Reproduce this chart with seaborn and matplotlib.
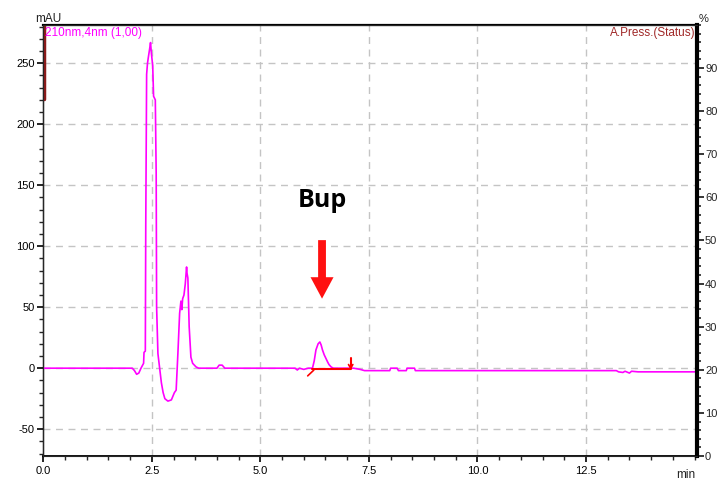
import numpy as np
import pandas as pd
import matplotlib
matplotlib.use("Agg")
import matplotlib.pyplot as plt
import seaborn as sns
from matplotlib.ticker import MultipleLocator
from matplotlib.patches import FancyArrow

# ---------------- data ----------------
time_min = [0.0, 2.05, 2.10, 2.15, 2.20, 2.25, 2.28, 2.31, 2.32, 2.35, 2.36, 2.38, 2.40,
            2.42, 2.45, 2.47, 2.49, 2.52, 2.54, 2.58, 2.60, 2.61, 2.64, 2.68, 2.72, 2.76,
            2.80, 2.87, 2.95, 3.02, 3.06, 3.10, 3.14, 3.17, 3.19, 3.21, 3.24, 3.27, 3.30,
            3.31, 3.33, 3.36, 3.40, 3.44, 3.52, 3.58, 4.00, 4.05, 4.12, 4.18, 5.80, 5.85,
            5.90, 6.00, 6.10, 6.20, 6.24, 6.28, 6.33, 6.37, 6.40, 6.43, 6.47, 6.51, 6.55,
            6.58, 6.63, 6.68, 7.15, 7.30, 7.40, 7.98, 8.00, 8.15, 8.18, 8.36, 8.38, 8.55,
            8.57, 13.20, 13.25, 13.35, 13.40, 13.50, 13.55, 13.70, 15.05]
signal_mau = [0, 0, -2, -5, -4, 0, 2, 4, 13, 14, 117, 241, 250,
              255, 262, 267, 258, 248, 223, 220, 160, 50, 12, 0, -12, -20,
              -25, -27, -26, -20, -18, 12, 45, 55, 48, 57, 60, 69, 83,
              78, 74, 34, 9, 4, 1, 0, 0, 2.5, 2.5, 0, 0, -1.5,
              0, -1, 0, 0, 6, 15, 20, 21.5, 19, 15, 11, 8, 5,
              3, 1, 0, 0, -1, -2, -2, 0, 0, -2, -2, 0, 0,
              -2, -2, -3, -3.5, -2.5, -4, -2.5, -3, -3]

# integration baseline of the Bup peak
base_time = [6.20, 7.08]
base_mau = [-0.5, -0.5]

# pressure trace fragment at start (dark red)
press_time = [0.02, 0.02]
press_mau = [285, 221]

left_ticks = [-50, 0, 50, 100, 150, 200, 250]
right_ticks = [0, 10, 20, 30, 40, 50, 60, 70, 80, 90]
x_ticks = [0.0, 2.5, 5.0, 7.5, 10.0, 12.5]

peak_label = "Bup"
peak_time = 6.42
trace_label = "210nm,4nm (1,00)"
press_label = "A.Press.(Status)"

# ---------------- style ----------------
sns.set_style("white")
plt.rcParams["font.family"] = ["Liberation Sans", "DejaVu Sans"]

fig = plt.figure(figsize=(7.17, 4.82), dpi=100)
ax = fig.add_axes([43.3 / 717, 1 - 456 / 482, (696.7 - 43.3) / 717, (456 - 25) / 482])
ax.set_facecolor("white")

ax.set_xlim(0, 15.05)
ax.set_ylim(-72, 281.4)

grid_kw = dict(color="#c4c4c4", lw=1.0, dashes=(5, 4), zorder=0)
for yv in left_ticks:
    ax.axhline(yv, **grid_kw)
for xv in x_ticks[1:]:
    ax.axvline(xv, **grid_kw)

df = pd.DataFrame({"t": time_min, "mAU": signal_mau})
sns.lineplot(data=df, x="t", y="mAU", ax=ax, color="#ff00ff", lw=1.2,
             sort=False, estimator=None, zorder=3)
sns.lineplot(x=base_time, y=base_mau, ax=ax, color="#ff0000", lw=1.5,
             sort=False, estimator=None, zorder=4)
# integration markers
ax.plot([6.09, 6.23], [-6.3, -1.6], color="#ff0000", lw=1.2, zorder=4)
ax.plot([7.08, 7.08], [8, 0], color="#ff0000", lw=1.5, zorder=4)
ax.plot([7.03, 7.08, 7.13], [3, 0, 3], color="#ff0000", lw=1.2, zorder=4)
sns.lineplot(x=press_time, y=press_mau, ax=ax, color="#8b1a1a", lw=2.5,
             sort=False, estimator=None, zorder=4)

# arrow and label
ax.add_patch(FancyArrow(peak_time, 105, 0, -48, width=0.18, head_width=0.53,
                        head_length=17.6, length_includes_head=True,
                        color="#ff1010", lw=0, zorder=5))
ax.text(peak_time, 132, peak_label, ha="center", va="baseline", fontsize=18,
        fontweight="bold", family=["Open Sans", "DejaVu Sans"], color="black")

ax.set_xlabel("")
ax.set_ylabel("")
ax.set_xticks(x_ticks)
ax.set_xticklabels([f"{v:.1f}" for v in x_ticks])
ax.set_yticks(left_ticks)
ax.set_yticklabels([str(v) for v in left_ticks])
ax.xaxis.set_minor_locator(MultipleLocator(0.5))
ax.yaxis.set_minor_locator(MultipleLocator(10))
ax.tick_params(axis="both", which="major", direction="out", length=4, width=1.2,
               labelsize=8, colors="black", pad=2, left=True, bottom=True)
ax.tick_params(axis="both", which="minor", direction="out", length=3, width=1.0,
               left=True, bottom=True)
ax.tick_params(axis="x", pad=3)

for s in ["left", "bottom", "top"]:
    ax.spines[s].set_color("black")
    ax.spines[s].set_visible(True)
ax.spines["left"].set_linewidth(1.0)
ax.spines["bottom"].set_linewidth(1.3)
ax.spines["top"].set_linewidth(1.6)

ax.text(0.003, 0.995, trace_label, transform=ax.transAxes, ha="left", va="top",
        color="#ff00ff", fontsize=8.5, zorder=6)
ax.text(0.999, 0.995, press_label, transform=ax.transAxes, ha="right", va="top",
        color="#a02828", fontsize=8.5, zorder=6)

# right axis
ax2 = ax.twinx()
ax2.set_ylim(0, 100)
ax2.set_yticks(right_ticks)
ax2.set_yticklabels([str(v) for v in right_ticks])
ax2.yaxis.set_minor_locator(MultipleLocator(2))
ax2.tick_params(axis="y", which="major", direction="out", length=5, width=1.3,
                labelsize=8, pad=1, right=True)
ax2.tick_params(axis="y", which="minor", direction="out", length=3, width=1.2, right=True)
ax2.spines["right"].set_linewidth(3)
ax2.spines["right"].set_color("black")
ax2.grid(False)

fig.text(35 / 717, 1 - 22 / 482, "mAU", fontsize=8.5, ha="left", va="baseline", color="#222222")
fig.text(699 / 717, 1 - 22 / 482, "%", fontsize=8, ha="left", va="baseline", color="#222222")
fig.text(695 / 717, 1 - 478 / 482, "min", fontsize=8.5, ha="right", va="baseline", color="#222222")

fig.savefig("out.png", dpi=100)
